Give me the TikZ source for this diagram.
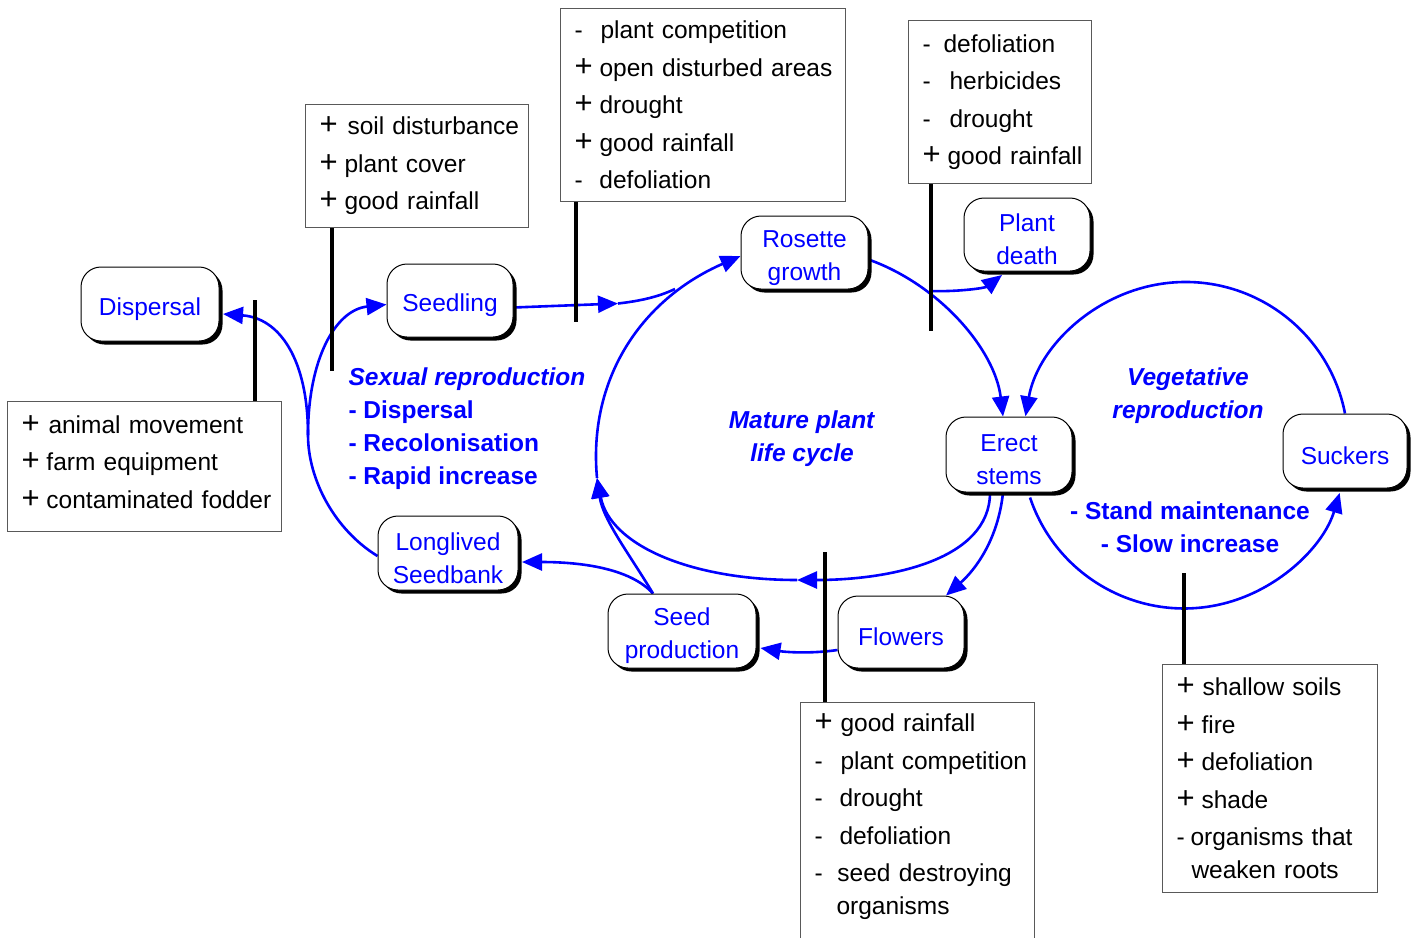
\documentclass[tikz,border=0pt]{standalone}
\usepackage{fontspec}
\setmainfont{Liberation Sans}
\usetikzlibrary{arrows.meta,shadows,calc,backgrounds}
\newcommand{\infrow}[3][25pt]{\hspace*{14pt}\makebox[#1][l]{#2}#3}
\newcommand{\pl}{{\fontsize{31}{31}\selectfont +}}
\newcommand{\mn}{-}
\newcommand{\tp}{\rule{0pt}{27.5pt}}
\begin{document}
\begin{tikzpicture}[x=1pt,y=-1pt,
  stage/.style={draw=black, line width=1pt, rounded corners=20pt, fill=white, text=blue, align=center,
    font=\fontsize{24.5}{33}\selectfont, inner sep=0pt,
    drop shadow={shadow xshift=3.5pt, shadow yshift=-3.5pt, opacity=1, fill=black}},
  lst/.style={draw=black!65, line width=1pt, fill=white, align=left, inner xsep=0pt, inner ysep=0pt,
    font=\fontsize{24.5}{37.5}\selectfont, anchor=north west},
  arr/.style={draw=blue, line width=2.6pt, -{Triangle[length=20pt,width=17pt]}},
  ln/.style={draw=blue, line width=2.6pt},
  infl/.style={draw=black, line width=4.2pt},
  lbl/.style={text=blue, font=\fontsize{24.5}{33}\selectfont\bfseries, align=center}
]
\useasboundingbox (0,0) rectangle (1421,937);

% stage nodes
\node[stage, minimum width=138pt, minimum height=74pt] (disp) at (150,304) {\tp Dispersal};
\node[stage, minimum width=126pt, minimum height=73pt] (seedl) at (450,300.5) {\tp Seedling};
\node[stage, minimum width=127pt, minimum height=73pt] (ros) at (804.5,252.5) {\tp Rosette\\growth};
\node[stage, minimum width=126pt, minimum height=73pt] (death) at (1027,234.5) {\tp Plant\\death};
\node[stage, minimum width=126pt, minimum height=75pt] (erect) at (1009,454.5) {\tp Erect\\stems};
\node[stage, minimum width=124pt, minimum height=74pt] (suck) at (1345,451) {\tp Suckers};
\node[stage, minimum width=140pt, minimum height=74pt] (seedb) at (448,553) {\tp Longlived\\Seedbank};
\node[stage, minimum width=148pt, minimum height=74pt] (seedp) at (682,631) {\tp Seed\\production};
\node[stage, minimum width=126pt, minimum height=72pt] (flw) at (901,632) {\tp Flowers};

% influence boxes
\node[lst, text width=223pt, minimum height=123pt] (bsoil) at (305,104)
  {\infrow[28pt]{\pl}{soil disturbance}\\\infrow{\pl}{plant cover}\\\infrow{\pl}{good rainfall}};
\node[lst, text width=285pt, minimum height=193pt] (bcomp) at (560,8)
  {\infrow[26pt]{\mn}{plant competition}\\\infrow{\pl}{open disturbed areas}\\\infrow{\pl}{drought}\\\infrow{\pl}{good rainfall}\\\infrow{\mn}{defoliation}};
\node[lst, text width=183pt, minimum height=163pt] (bdef) at (908,20)
  {\infrow[21pt]{\mn}{defoliation}\\\infrow[27pt]{\mn}{herbicides}\\\infrow[27pt]{\mn}{drought}\\\infrow{\pl}{good rainfall}};
\node[lst, text width=274pt, minimum height=130pt] (banim) at (7,401)
  {\infrow[27pt]{\pl}{animal movement}\\\infrow{\pl}{farm equipment}\\\infrow{\pl}{contaminated fodder}\rule[-9pt]{0pt}{9pt}};
\node[lst, draw=none, fill=none, text width=233pt, minimum height=229pt] (brain) at (800,702)
  {\infrow[26pt]{\pl}{good rainfall}\\\infrow[26pt]{\mn}{plant competition}\\\infrow{\mn}{drought}\\\infrow{\mn}{defoliation}\\\infrow[23pt]{\mn}{seed destroying}\\[-4.5pt]\infrow[22pt]{}{organisms}};
\draw[draw=black!65, line width=1pt] ([yshift=-12pt]brain.south west) -- (brain.north west) -- (brain.north east) -- ([yshift=-12pt]brain.south east);
\node[lst, text width=215pt, minimum height=228pt] (bshal) at (1162,664)
  {\infrow[26pt]{\pl}{shallow soils}\\\infrow{\pl}{fire}\\\infrow{\pl}{defoliation}\\\infrow{\pl}{shade}\\\infrow[14pt]{\mn}{organisms that}\\[-4.5pt]\infrow[15pt]{}{weaken roots}};

% labels
\node[lbl, align=left, anchor=west] (sexlbl) at (345,429)
  {\textit{Sexual reproduction}\\- Dispersal\\- Recolonisation\\- Rapid increase};
\node[lbl] (mature) at (802,439) {\textit{Mature plant}\\\textit{life cycle}};
\node[lbl] (veg) at (1188,396) {\textit{Vegetative}\\\textit{reproduction}};
\node[lbl] (stand) at (1190,527) {- Stand maintenance\\- Slow increase};

\begin{pgfonlayer}{background}
\coordinate (m1) at (618,303.5);
\coordinate (mj) at (675,289);
\coordinate (m2) at (797,580);
\coordinate (m3) at (597,478);
\coordinate (jl) at (308,435);
\coordinate (pd0) at (929,291);

\draw[arr] ([yshift=-7pt]seedl.east) -- (m1);
\draw[ln] (m1) .. controls (640,301) and (658,297) .. (mj);
\draw[arr] (m3) .. controls (588,380) and (640,300) .. ([yshift=-3.5pt]ros.west);
\draw[arr] ([yshift=-7pt]ros.east) .. controls (940,285) and (995,350) .. ([xshift=-6pt]erect.north);
\draw[arr] (pd0) .. controls (958,292) and (985,288) .. ([xshift=-25pt,yshift=-3.5pt]death.south);
\draw[arr] ([xshift=-19pt]erect.south) .. controls (990,560) and (890,580) .. (m2);
\draw[arr] (m2) .. controls (690,580) and (610,545) .. (m3);
\draw[arr] ([xshift=-29pt]seedp.north) .. controls (630,555) and (603,520) .. (m3);
\draw[arr] ([xshift=-29pt]seedp.north) .. controls (630,568) and (580,562) .. ([xshift=3.5pt,yshift=-9pt]seedb.east);
\draw[arr] ([xshift=-6pt]erect.south) .. controls (998,540) and (975,570) .. ([xshift=45pt]flw.north);
\draw[arr] ([yshift=-18pt]flw.west) .. controls (810,654) and (785,652) .. ([xshift=4pt,yshift=-17pt]seedp.east);
\draw[ln] ([yshift=-3pt]seedb.west) .. controls (335,530) and (308,480) .. (jl);
\draw[arr] (jl) .. controls (308,360) and (280,318) .. ([xshift=3.5pt,yshift=-10pt]disp.east);
\draw[arr] (jl) .. controls (308,360) and (335,310) .. ([yshift=-4pt]seedl.west);
% vegetative cycle
\draw[arr] (suck.north) arc[start angle=11, end angle=170, radius=162.5pt];
\draw[arr] ([xshift=21pt,yshift=-5pt]erect.south) arc[start angle=198.5, end angle=343.2, radius=162.5pt];

% influence lines
\draw[infl] ([xshift=27pt]bsoil.south west) -- ++(0,143) coordinate (e1);
\draw[infl] ([xshift=16pt]bcomp.south west) -- ++(0,120) coordinate (e2);
\draw[infl] ([xshift=23pt]bdef.south west) -- ++(0,147) coordinate (e3);
\draw[infl] ([xshift=248pt]banim.north west) -- ++(0,-101) coordinate (e4);
\draw[infl] ([xshift=25pt]brain.north west) -- ++(0,-150) coordinate (e5);
\draw[infl] ([xshift=22pt]bshal.north west) -- ++(0,-91) coordinate (e6);
\end{pgfonlayer}
\end{tikzpicture}
\end{document}
